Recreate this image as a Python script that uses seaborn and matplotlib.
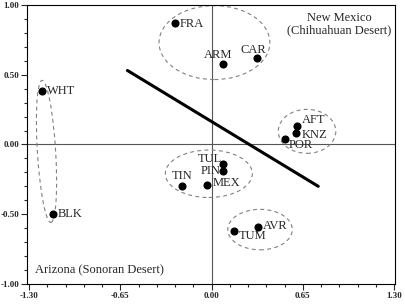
# Ordination plot: sites split between New Mexico and Arizona
import matplotlib
matplotlib.use("Agg")
import matplotlib.pyplot as plt
from matplotlib.patches import Ellipse
from matplotlib.ticker import MultipleLocator
import pandas as pd
import seaborn as sns

# Site scores
sites = ["FRA", "ARM", "CAR", "WHT", "AFT", "KNZ", "POR",
         "TUL", "PIN", "TIN", "MEX", "BLK", "AVR", "TUM"]
axis1 = [-0.26, 0.08, 0.32, -1.21, 0.61, 0.60, 0.52,
         0.08, 0.08, -0.21, -0.03, -1.13, 0.33, 0.16]
axis2 = [0.87, 0.58, 0.62, 0.38, 0.13, 0.08, 0.04,
         -0.14, -0.19, -0.30, -0.29, -0.50, -0.59, -0.62]

# Separating line (two end points)
line_x = [-0.60, 0.76]
line_y = [0.53, -0.30]

# Groups: centre x, centre y, width, height, angle
grupos = {
    "norte": (0.02, 0.73, 0.79, 0.53, 0),
    "oeste": (-1.177, -0.05, 0.13, 1.02, 3.5),
    "leste": (0.68, 0.094, 0.41, 0.315, 0),
    "centro": (-0.02, -0.21, 0.62, 0.34, 0),
    "sul": (0.345, -0.61, 0.46, 0.29, 0),
}

df = pd.DataFrame({"site": sites, "x": axis1, "y": axis2})
df_linha = pd.DataFrame({"x": line_x, "y": line_y})

sns.set_style("ticks")
plt.rcParams["font.family"] = ["Liberation Serif", "DejaVu Serif"]

fig = plt.figure(figsize=(4.06, 3.07), dpi=100)
ax = fig.add_axes([27 / 406, 23 / 307, 368 / 406, 279.5 / 307])

ax.axhline(0, color="#555555", lw=0.8, zorder=1)
ax.axvline(0, color="#555555", lw=0.8, zorder=1)

for cx, cy, w, h, ang in grupos.values():
    ax.add_patch(Ellipse((cx, cy), w, h, angle=ang, fill=False,
                         ec="#808080", lw=0.8, ls=(0, (3.5, 3)), zorder=2))

sns.lineplot(data=df_linha, x="x", y="y", color="black", lw=2.2, ax=ax, zorder=3)
sns.scatterplot(data=df, x="x", y="y", color="black", s=34, edgecolor="black",
                linewidth=0, ax=ax, zorder=4)

# label offsets in pixels (dx, dy, ha)
desloc = {
    "FRA": (5, -1, "left"), "ARM": (-5, 9, "center"), "CAR": (-3, 8, "center"),
    "WHT": (5, 0, "left"), "AFT": (5, 6, "left"), "KNZ": (6, -2, "left"),
    "POR": (4, -6, "left"), "TUL": (-1, 5, "right"), "PIN": (-2, 0, "right"),
    "TIN": (0, 10, "center"), "MEX": (5, 2, "left"), "BLK": (5, 0, "left"),
    "AVR": (5, 1, "left"), "TUM": (5, -5, "left"),
}
for _, r in df.iterrows():
    dx, dy, ha = desloc[r["site"]]
    ax.annotate(r["site"], (r["x"], r["y"]), xytext=(dx, dy),
                textcoords="offset pixels", ha=ha, va="center", fontsize=9)

ax.text(0.848, 0.93, "New Mexico\n(Chihuahuan Desert)", transform=ax.transAxes,
        ha="center", va="center", fontsize=9, linespacing=1.1)
ax.text(0.022, 0.05, "Arizona (Sonoran Desert)", transform=ax.transAxes,
        ha="left", va="center", fontsize=9)

ax.set_xlim(-1.316, 1.307)
ax.set_ylim(-1.0, 1.003)
ax.set_xticks([-1.30, -0.65, 0.0, 0.65, 1.30])
ax.set_yticks([-1.0, -0.5, 0.0, 0.5, 1.0])
ax.xaxis.set_minor_locator(MultipleLocator(0.13))
ax.yaxis.set_minor_locator(MultipleLocator(0.1))
ax.set_xticklabels(["-1.30", "-0.65", "0.00", "0.65", "1.30"])
ax.set_yticklabels(["-1.00", "-0.50", "0.00", "0.50", "1.00"])
ax.tick_params(which="major", length=4, width=0.8, labelsize=6.5, pad=1.5)
ax.tick_params(which="minor", length=2.5, width=0.8)
for lab in ax.get_xticklabels() + ax.get_yticklabels():
    lab.set_fontweight("bold")
for s in ax.spines.values():
    s.set_linewidth(0.8)
    s.set_color("black")
ax.set_xlabel("")
ax.set_ylabel("")

fig.savefig("out.png", dpi=100)
